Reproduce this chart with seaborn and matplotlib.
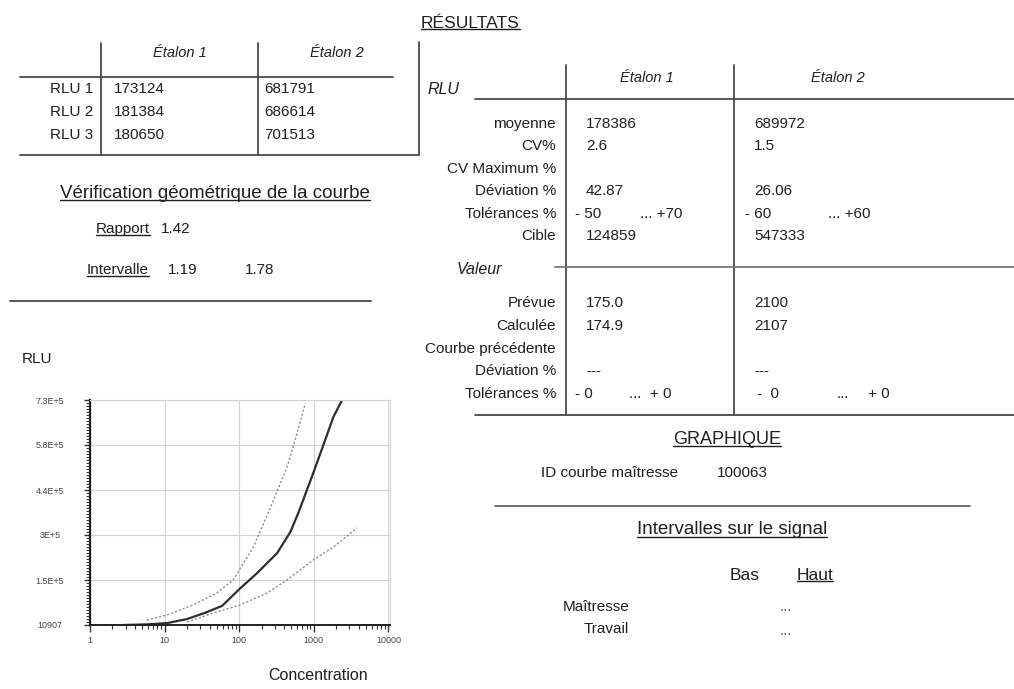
import matplotlib
matplotlib.use("Agg")
import numpy as np
import pandas as pd
import matplotlib.pyplot as plt
import seaborn as sns
from matplotlib.lines import Line2D
from matplotlib.ticker import FixedLocator, LogLocator, NullFormatter

# ---------------- data ----------------
rlu_rows = ["RLU 1", "RLU 2", "RLU 3"]
etalon1_rlu = ["173124", "181384", "180650"]
etalon2_rlu = ["681791", "686614", "701513"]

rapport = "1.42"
intervalle = ["1.19", "1.78"]

rlu_labels = ["moyenne", "CV%", "CV Maximum %", "Déviation %", "Tolérances %", "Cible"]
etalon1_res = ["178386", "2.6", "", "42.87", None, "124859"]
etalon2_res = ["689972", "1.5", "", "26.06", None, "547333"]
tol1 = ["- 50", "... +70"]
tol2 = ["- 60", "... +60"]

valeur_labels = ["Prévue", "Calculée", "Courbe précédente", "Déviation %", "Tolérances %"]
etalon1_val = ["175.0", "174.9", "", "---", None]
etalon2_val = ["2100", "2107", "", "---", None]

id_courbe = "100063"

# curves (concentration vs RLU)
conc_main = [2.8, 6, 10.8, 20, 35, 59, 103, 174, 323, 484, 620, 985, 1420, 1830, 2400]
rlu_main = [10907, 13000, 17000, 30000, 50000, 72000, 128000, 177000, 241000, 308000,
            369000, 497000, 602000, 676000, 730000]
conc_upper = [5.8, 10.8, 24, 50, 83, 155, 288, 438, 600, 770]
rlu_upper = [27000, 43000, 75000, 113000, 155000, 260000, 410000, 516000, 625000, 720000]
conc_lower = [20, 45, 103, 237, 438, 985, 1830, 3800]
rlu_lower = [20000, 49000, 75000, 113000, 155000, 219000, 260000, 321000]

x_ticks = [1, 10, 100, 1000, 10000]
x_tick_labels = ["1", "10", "100", "1000", "10000"]
y_min, y_max = 10907, 730000
y_tick_labels = ["10907", "1.5E+5", "3E+5", "4.4E+5", "5.8E+5", "7.3E+5"]

# ---------------- figure ----------------
sns.set_theme(style="white")
plt.rcParams["font.family"] = ["Liberation Sans", "DejaVu Sans"]

W, H = 1014, 689
fig = plt.figure(figsize=(W / 100, H / 100), dpi=100)
fig.patch.set_facecolor("white")
TC = "#1f1f1f"
LC = "#4a4a4a"


def hline(x0, x1, y, color=LC, lw=1.3):
    fig.add_artist(Line2D([x0 / W, x1 / W], [1 - y / H, 1 - y / H],
                          transform=fig.transFigure, color=color, lw=lw))


def vline(x, y0, y1, color=LC, lw=1.3):
    fig.add_artist(Line2D([x / W, x / W], [1 - y0 / H, 1 - y1 / H],
                          transform=fig.transFigure, color=color, lw=lw))


def txt(x, y, s, size=11, ha="left", style="normal", ul=False, color=TC):
    t = fig.text(x / W, 1 - y / H, s, fontsize=size, ha=ha, va="center",
                 style=style, color=color)
    if ul:
        r = fig.canvas.get_renderer()
        bb = t.get_window_extent(r)
        yy = bb.y0 + 0.1 * bb.height
        fig.add_artist(Line2D([bb.x0 / W, bb.x1 / W], [yy / H, yy / H],
                              transform=fig.transFigure, color=color, lw=1))
    return t


# ---- left table ----
txt(180, 53, "Étalon 1", size=10.5, ha="center", style="italic")
txt(337, 53, "Étalon 2", size=10.5, ha="center", style="italic")
vline(101, 43, 155)
vline(258, 43, 155)
vline(419, 42, 155)
hline(20, 393, 77)
hline(20, 419, 155)
for i, (lab, a, b) in enumerate(zip(rlu_rows, etalon1_rlu, etalon2_rlu)):
    y = 89 + i * 23
    txt(93, y, lab, ha="right")
    txt(114, y, a)
    txt(264, y, b)

txt(215, 193, "Vérification géométrique de la courbe", size=13.5, ha="center", ul=True)
txt(96, 229, "Rapport", ul=True)
txt(161, 229, rapport)
txt(87, 270, "Intervalle", ul=True)
txt(168, 270, intervalle[0])
txt(245, 270, intervalle[1])
hline(10, 371, 301)

# ---- right table ----
txt(421, 23, "RÉSULTATS", size=12.5, ul=True)
txt(428, 90, "RLU", size=11.5, style="italic")
txt(647, 78, "Étalon 1", size=10.5, ha="center", style="italic")
txt(838, 78, "Étalon 2", size=10.5, ha="center", style="italic")
vline(566, 65, 415)
vline(734, 65, 415)
hline(475, 1014, 99)
hline(555, 1014, 267, color="#777777")
hline(475, 1014, 415)

c1, c2 = 586, 754
for i, (lab, a, b) in enumerate(zip(rlu_labels, etalon1_res, etalon2_res)):
    y = 124 + i * 22.4
    txt(556, y, lab, ha="right")
    if a is None:
        txt(575, y, tol1[0])
        txt(640, y, tol1[1])
        txt(745, y, tol2[0])
        txt(828, y, tol2[1])
    else:
        txt(c1, y, a)
        txt(c2, y, b)

txt(457, 270, "Valeur", size=11.5, style="italic")
for i, (lab, a, b) in enumerate(zip(valeur_labels, etalon1_val, etalon2_val)):
    y = 303 + i * 22.8
    txt(556, y, lab, ha="right")
    if a is None:
        txt(575, y, "- 0")
        txt(629, y, "...  + 0")
        txt(757, y, "-  0")
        txt(837, y, "...")
        txt(868, y, "+ 0")
    else:
        txt(c1, y, a)
        txt(c2, y, b)

# ---- graphique section ----
txt(727, 439, "GRAPHIQUE", size=13, ha="center", ul=True)
txt(541, 473, "ID courbe maîtresse")
txt(717, 473, id_courbe)
hline(495, 970, 506, color="#666666")
txt(732, 530, "Intervalles sur le signal", size=13.5, ha="center", ul=True)
txt(745, 575, "Bas", size=12.5, ha="center")
txt(815, 575, "Haut", size=12.5, ha="center", ul=True)
txt(629, 607, "Maîtresse", ha="right")
txt(629, 629, "Travail", ha="right")
txt(780, 607, "...", size=11, color="#666666")
txt(780, 631, "...", size=11, color="#666666")

# ---- chart ----
txt(22, 359, "RLU", size=11)
txt(318, 675, "Concentration", size=11.5, ha="center")

ax = fig.add_axes([90 / W, 1 - 625 / H, 300 / W, 225 / H])
ax.set_facecolor("white")
sns.lineplot(x=conc_upper, y=rlu_upper, ax=ax, color="#8a8a8a", lw=1.0,
             linestyle=(0, (1.5, 1.5)), sort=False)
sns.lineplot(x=conc_lower, y=rlu_lower, ax=ax, color="#8a8a8a", lw=1.0,
             linestyle=(0, (1.5, 1.5)), sort=False)
sns.lineplot(x=conc_main, y=rlu_main, ax=ax, color="#2e2e2e", lw=1.6, sort=False)
ax.set_xscale("log")
ax.set_xlim(1, 10500)
ax.set_ylim(y_min, y_max)
ax.set_xticks(x_ticks)
ax.set_xticklabels(x_tick_labels)
ax.xaxis.set_minor_locator(LogLocator(base=10, subs=np.arange(2, 10)))
ax.xaxis.set_minor_formatter(NullFormatter())
yt = np.linspace(y_min, y_max, len(y_tick_labels))
ax.set_yticks(yt)
ax.set_yticklabels(y_tick_labels)
ax.yaxis.set_minor_locator(FixedLocator(np.linspace(y_min, y_max, 76)))
ax.grid(True, which="major", color="#d2d2d2", lw=0.8)
ax.set_xlabel("")
ax.set_ylabel("")
for s in ["top", "right"]:
    ax.spines[s].set_color("#d2d2d2")
    ax.spines[s].set_linewidth(0.8)
ax.spines["left"].set_color("#222222")
ax.spines["left"].set_linewidth(1.6)
ax.spines["bottom"].set_color("#222222")
ax.spines["bottom"].set_linewidth(1.4)
ax.tick_params(axis="x", which="major", direction="out", length=5, width=1,
               color="#333333", labelsize=6.5, labelcolor="#444444", pad=3,
               bottom=True)
ax.tick_params(axis="x", which="minor", direction="out", length=3, width=0.8,
               color="#333333", bottom=True)
ax.tick_params(axis="y", which="major", direction="out", length=4, width=1,
               color="#333333", labelsize=6.5, labelcolor="#444444", pad=25,
               left=True)
ax.tick_params(axis="y", which="minor", direction="out", length=3, width=0.7,
               color="#333333", left=True)
for lab in ax.get_yticklabels():
    lab.set_horizontalalignment("center")

fig.savefig("out.png", dpi=100)
